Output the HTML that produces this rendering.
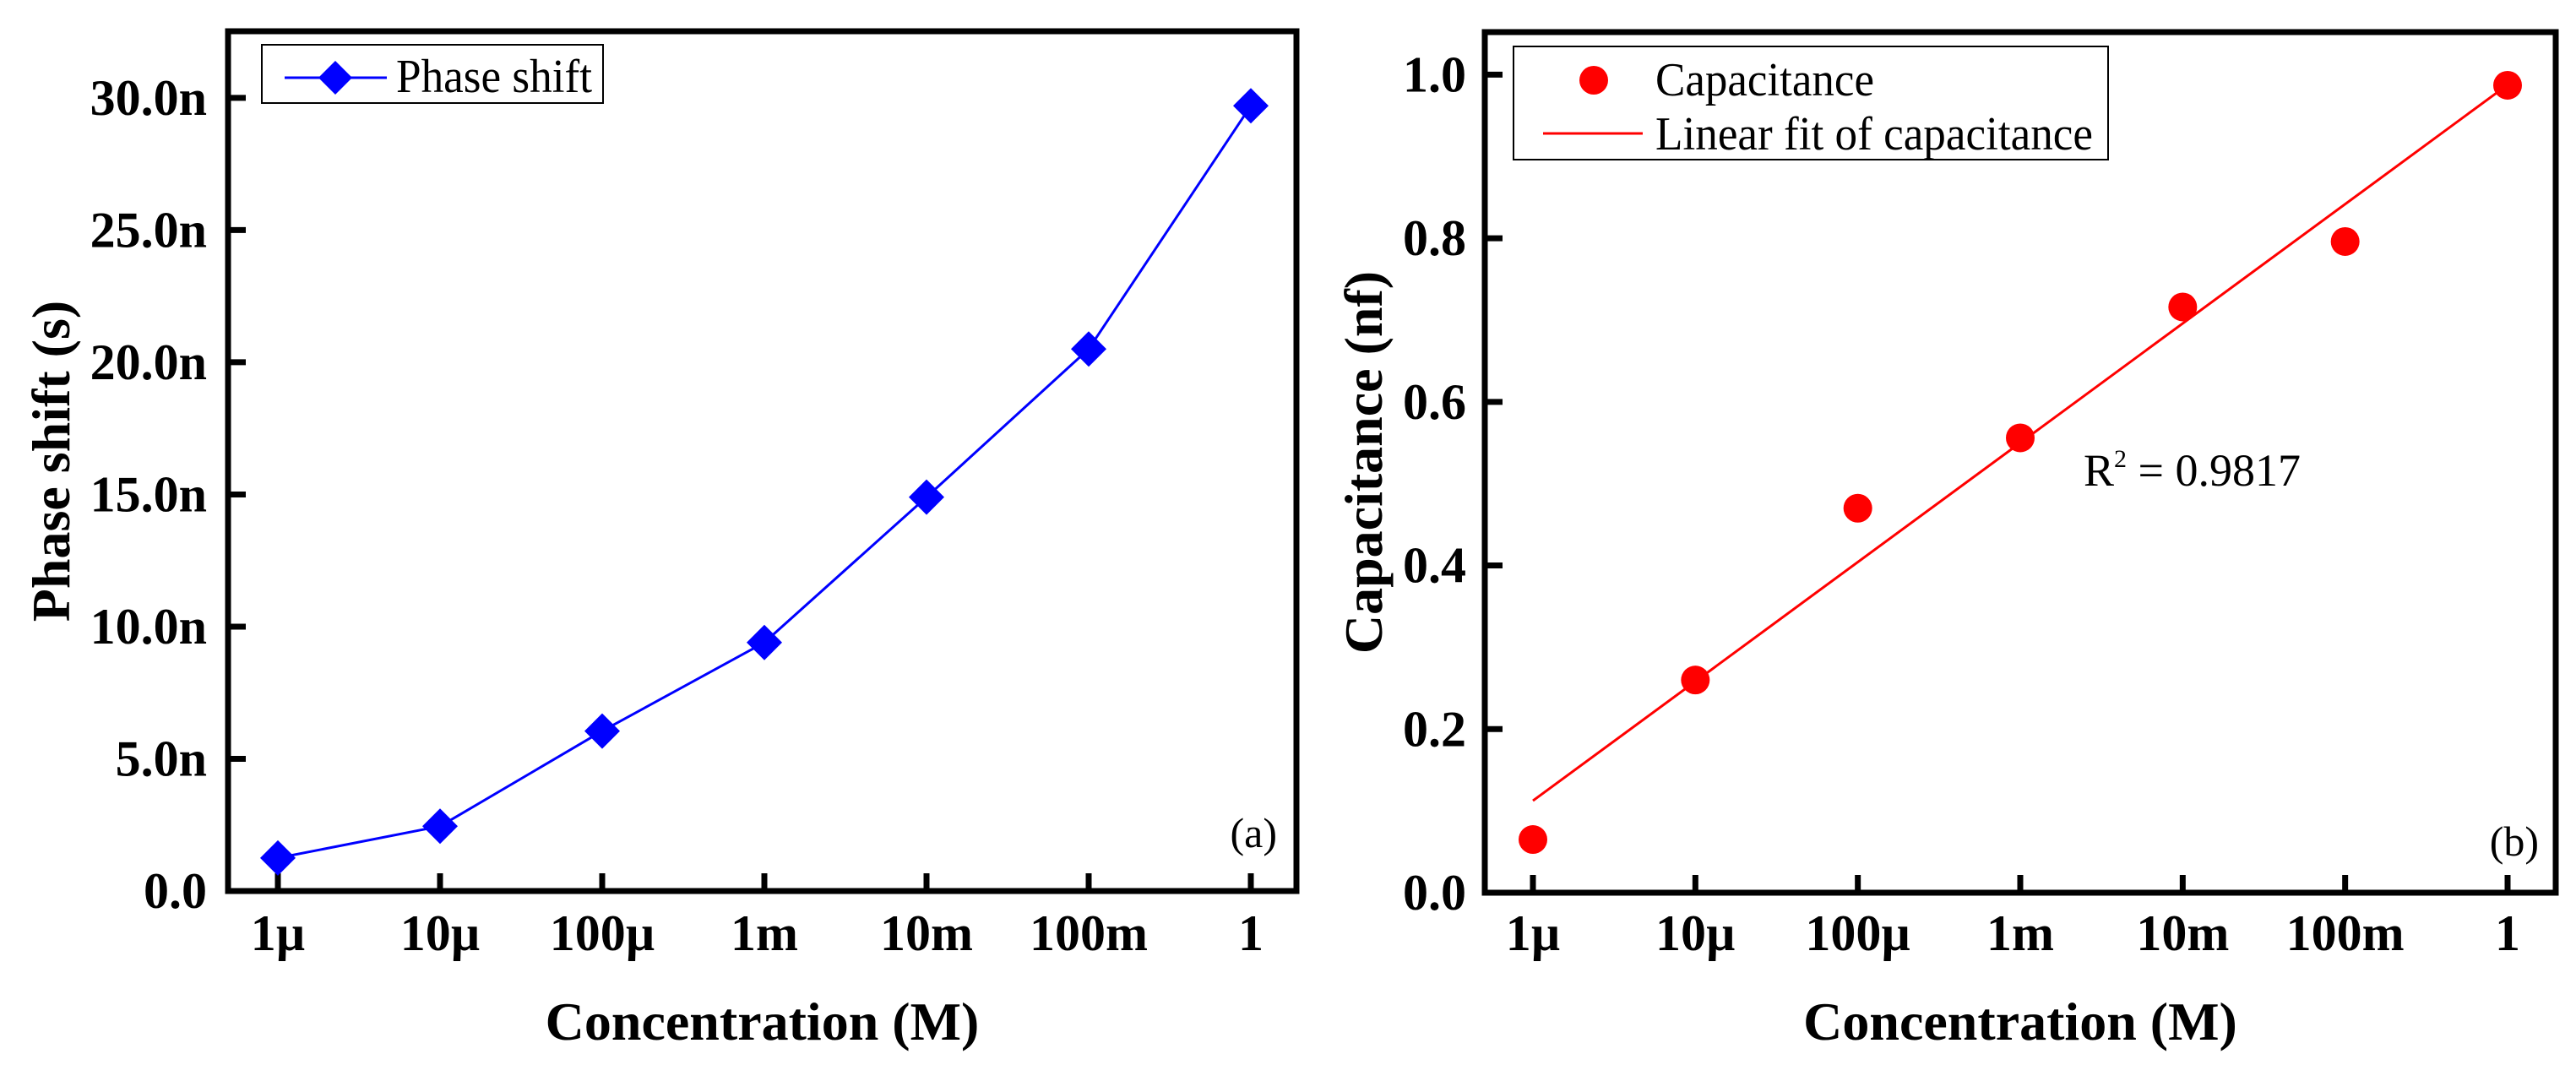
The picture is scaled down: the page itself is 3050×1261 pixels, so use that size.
<!DOCTYPE html>
<html><head><meta charset="utf-8"><style>
html,body{margin:0;padding:0;background:#fff;}
svg{display:block;font-family:"Liberation Serif",serif;}
</style></head><body>
<svg id="chart" width="3050" height="1261" viewBox="0 0 3050 1261" xmlns="http://www.w3.org/2000/svg">
<g id="pa"></g>
<g id="pb"></g>
</svg>
<script>
const categories = ["1µ","10µ","100µ","1m","10m","100m","1"];
const phaseValues = [1.25, 2.45, 6.05, 9.4, 14.9, 20.5, 29.7];
const phaseTicks = [0,5,10,15,20,25,30];
const phaseTickLabels = ["0.0","5.0n","10.0n","15.0n","20.0n","25.0n","30.0n"];
const capValues = [0.065, 0.26, 0.47, 0.556, 0.716, 0.796, 0.987];
const capTicks = [0,0.2,0.4,0.6,0.8,1.0];
const capTickLabels = ["0.0","0.2","0.4","0.6","0.8","1.0"];

const NS="http://www.w3.org/2000/svg";
function mk(parent,tag,attrs,text){const e=document.createElementNS(NS,tag);for(const k in attrs)e.setAttribute(k,attrs[k]);if(text!==undefined)e.textContent=text;parent.appendChild(e);return e;}

function panel(g,cfg){
  const {L,R,T,B,x0,x1,ymin,ymax}=cfg;
  const xs=i=>x0+(x1-x0)*i/(categories.length-1);
  const ys=v=>B-(B-T)*(v-ymin)/(ymax-ymin);
  const fr=mk(g,'rect',{x:L,y:T,width:R-L,height:B-T,fill:'none',stroke:'#000','stroke-width':7});
  
  
  categories.forEach((c,i)=>{
    const t=mk(g,'line',{x1:xs(i),x2:xs(i),y1:B,y2:B-21,stroke:'#000','stroke-width':7});
    
    
    const l=mk(g,'text',{x:xs(i),y:1125,'text-anchor':'middle','font-size':60,'font-weight':'bold'},c);
    
    
  });
  cfg.ticks.forEach((v,i)=>{
    const t=mk(g,'line',{x1:L,x2:L+21,y1:ys(v),y2:ys(v),stroke:'#000','stroke-width':7});
    
    
    const l=mk(g,'text',{x:cfg.labelRight,y:ys(v)+20,'text-anchor':'end','font-size':60,'font-weight':'bold'},cfg.tickLabels[i]);
    
    
  });
  const xt=mk(g,'text',{x:(L+R)/2,y:1231,'text-anchor':'middle','font-size':64,'font-weight':'bold'},'Concentration (M)');
  
  
  const yt=mk(g,'text',{x:0,y:0,'text-anchor':'middle','font-size':64,'font-weight':'bold',transform:`translate(${cfg.ytx},${(T+B)/2}) rotate(-90)`},cfg.ytitle);
  
  
  return {xs,ys};
}

// Panel A
const ga=document.getElementById('pa');
const A=panel(ga,{L:270,R:1535,T:37,B:1055,x0:329,x1:1481,ymin:0,ymax:32.52,ticks:phaseTicks,tickLabels:phaseTickLabels,labelRight:245,ytx:82,ytitle:'Phase shift (s)'});
const pts=phaseValues.map((v,i)=>A.xs(i)+','+A.ys(v)).join(' ');
const pl=mk(ga,'polyline',{points:pts,fill:'none',stroke:'#0000ff','stroke-width':3});


phaseValues.forEach((v,i)=>{
  const x=A.xs(i),y=A.ys(v);
  const d=mk(ga,'polygon',{points:`${x},${y-21} ${x+21},${y} ${x},${y+21} ${x-21},${y}`,fill:'#0000ff'});
  
  
});
const la=mk(ga,'g',{});


mk(la,'rect',{x:310,y:53,width:404,height:69,fill:'#fff',stroke:'#000','stroke-width':2});
mk(la,'line',{x1:337,x2:458,y1:92,y2:92,stroke:'#0000ff','stroke-width':3});
mk(la,'polygon',{points:'397,72 417,92 397,112 377,92',fill:'#0000ff'});
mk(la,'text',{x:469,y:109,'font-size':56,textLength:232,lengthAdjust:'spacingAndGlyphs'},'Phase shift');
const ta=mk(ga,'text',{x:1512,y:1003,'text-anchor':'end','font-size':50},'(a)');



// Panel B
const gb=document.getElementById('pb');
const Bp=panel(gb,{L:1758,R:3026,T:38,B:1057,x0:1815,x1:2969,ymin:0,ymax:1.052,ticks:capTicks,tickLabels:capTickLabels,labelRight:1736,ytx:1636,ytitle:'Capacitance (nf)'});
const n=capValues.length;
const mx=(n-1)/2, my=capValues.reduce((a,b)=>a+b,0)/n;
let sxy=0,sxx=0;capValues.forEach((v,i)=>{sxy+=(i-mx)*(v-my);sxx+=(i-mx)*(i-mx);});
const slope=sxy/sxx, icpt=my-slope*mx;
const fit=mk(gb,'line',{x1:Bp.xs(0),y1:Bp.ys(icpt),x2:Bp.xs(n-1),y2:Bp.ys(icpt+slope*(n-1)),stroke:'#ff0000','stroke-width':3});


capValues.forEach((v,i)=>{
  const c=mk(gb,'circle',{cx:Bp.xs(i),cy:Bp.ys(v),r:17,fill:'#ff0000'});
  
  
});
const lb=mk(gb,'g',{});


mk(lb,'rect',{x:1792,y:55,width:704,height:134,fill:'#fff',stroke:'#000','stroke-width':2});
mk(lb,'circle',{cx:1887,cy:95,r:17,fill:'#ff0000'});
mk(lb,'text',{x:1960,y:113,'font-size':56,textLength:259,lengthAdjust:'spacingAndGlyphs'},'Capacitance');
mk(lb,'line',{x1:1827,x2:1945,y1:158,y2:158,stroke:'#ff0000','stroke-width':3});
mk(lb,'text',{x:1960,y:177,'font-size':56,textLength:518,lengthAdjust:'spacingAndGlyphs'},'Linear fit of capacitance');
const r2=mk(gb,'text',{x:2467,y:575,'font-size':54},'');


mk(r2,'tspan',{},'R');
mk(r2,'tspan',{'font-size':30,dy:-22},'2');
mk(r2,'tspan',{dy:22},' = 0.9817');
const tb=mk(gb,'text',{x:3006,y:1013,'text-anchor':'end','font-size':50},'(b)');


</script>
</body></html>
